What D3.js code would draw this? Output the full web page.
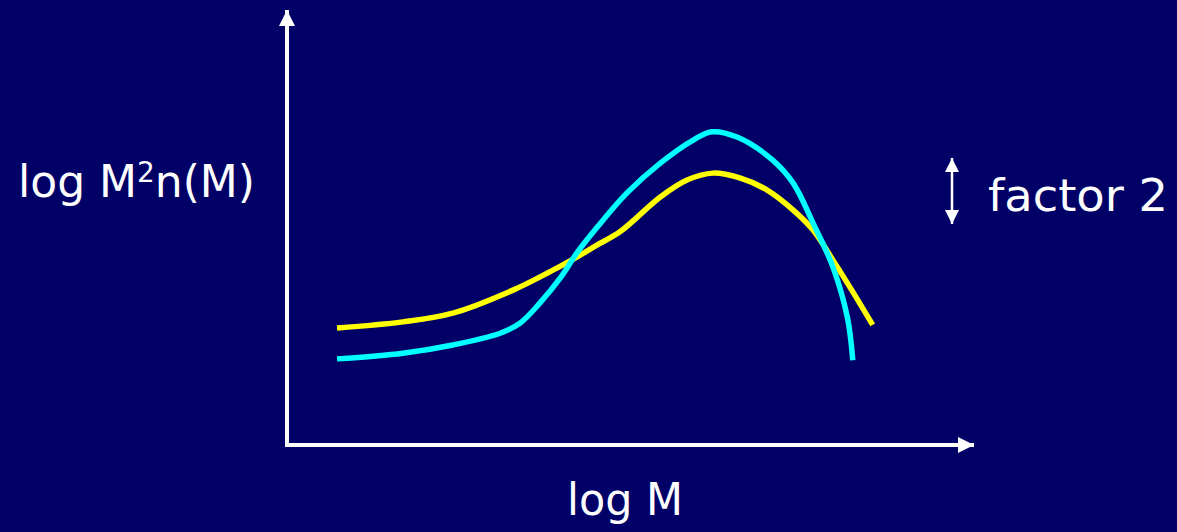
<!DOCTYPE html>
<html>
<head>
<meta charset="utf-8">
<script src="https://cdn.jsdelivr.net/npm/d3@7"></script>
<style>
  body { margin: 0; background: #000066; }
  text { font-family: "Comic Sans MS", "DejaVu Sans", sans-serif; fill: #fff; }
</style>
</head>
<body>
<div id="wrapper"></div>
<script>
// log M on x, log M^2 n(M) on y, arbitrary units 0..10
const cyanX = [0.73, 1.69, 2.42, 3.11, 3.40, 3.69, 3.99, 4.23, 4.53, 4.96, 5.45, 5.93, 6.20, 6.57, 7.09, 7.39, 7.68, 7.97, 8.18, 8.26];
const cyanY = [1.98, 2.11, 2.30, 2.57, 2.80, 3.26, 3.84, 4.41, 5.01, 5.79, 6.48, 7.01, 7.20, 7.08, 6.55, 6.02, 5.10, 4.09, 2.94, 1.95];
const yellowX = [0.73, 1.69, 2.42, 3.30, 3.80, 4.23, 4.53, 4.86, 5.45, 5.84, 6.22, 6.61, 7.01, 7.39, 7.68, 7.97, 8.26, 8.55];
const yellowY = [2.69, 2.83, 3.03, 3.56, 3.95, 4.32, 4.60, 4.90, 5.70, 6.09, 6.25, 6.14, 5.86, 5.40, 4.94, 4.25, 3.52, 2.76];

const xLabel = "log M";
const factorLabel = "factor 2";

function drawChart() {
  let dimensions = {
    width: 1177,
    height: 532,
    origin: { x: 287, y: 445 },
    xEnd: 972,
    yEnd: 10,
  };

  const svg = d3.select("#wrapper")
    .append("svg")
    .attr("width", dimensions.width)
    .attr("height", dimensions.height)
    .style("display", "block");

  svg.append("rect")
    .attr("width", dimensions.width)
    .attr("height", dimensions.height)
    .attr("fill", "#000066");

  const xScale = d3.scaleLinear()
    .domain([0, 10])
    .range([dimensions.origin.x, dimensions.xEnd]);

  const yScale = d3.scaleLinear()
    .domain([0, 10])
    .range([dimensions.origin.y, dimensions.yEnd]);

  // arrow markers
  const defs = svg.append("defs");
  defs.append("marker")
    .attr("id", "arrow")
    .attr("viewBox", "0 0 10 10")
    .attr("refX", 10)
    .attr("refY", 5)
    .attr("markerUnits", "userSpaceOnUse")
    .attr("markerWidth", 16)
    .attr("markerHeight", 17)
    .attr("orient", "auto")
    .append("path")
    .attr("d", "M0,0 L10,5 L0,10 Z")
    .attr("fill", "#fff");

  defs.append("marker")
    .attr("id", "small-arrow")
    .attr("viewBox", "0 0 10 10")
    .attr("refX", 10)
    .attr("refY", 5)
    .attr("markerUnits", "userSpaceOnUse")
    .attr("markerWidth", 15)
    .attr("markerHeight", 14)
    .attr("orient", "auto-start-reverse")
    .append("path")
    .attr("d", "M0,0 L10,5 L0,10 Z")
    .attr("fill", "#fff");

  // axes
  svg.append("line")
    .attr("x1", xScale(0)).attr("y1", yScale(0) + 1.5)
    .attr("x2", xScale(0)).attr("y2", yScale(10))
    .attr("stroke", "#fff")
    .attr("stroke-width", 4)
    .attr("marker-end", "url(#arrow)");

  svg.append("line")
    .attr("x1", xScale(0) - 2).attr("y1", yScale(0))
    .attr("x2", xScale(10) + 2).attr("y2", yScale(0))
    .attr("stroke", "#fff")
    .attr("stroke-width", 4)
    .attr("marker-end", "url(#arrow)");

  const lineGenerator = d3.line()
    .x(d => xScale(d[0]))
    .y(d => yScale(d[1]))
    .curve(d3.curveCatmullRom.alpha(0.5));

  const yellowData = d3.zip(yellowX, yellowY);
  const cyanData = d3.zip(cyanX, cyanY);

  svg.append("path")
    .attr("d", lineGenerator(yellowData))
    .attr("fill", "none")
    .attr("stroke", "#ffff00")
    .attr("stroke-width", 5.5);

  svg.append("path")
    .attr("d", lineGenerator(cyanData))
    .attr("fill", "none")
    .attr("stroke", "#00ffff")
    .attr("stroke-width", 5.5);

  // labels
  const yText = svg.append("text")
    .attr("x", 18)
    .attr("y", 197)
    .attr("font-size", 44)
    .attr("textLength", 237)
    .attr("lengthAdjust", "spacingAndGlyphs");
  yText.append("tspan").text("log M");
  yText.append("tspan").attr("font-size", 28).attr("dy", -15).text("2");
  yText.append("tspan").attr("dy", 15).text("n(M)");

  svg.append("text")
    .attr("x", 567)
    .attr("y", 515)
    .attr("font-size", 44)
    .attr("textLength", 116)
    .attr("lengthAdjust", "spacingAndGlyphs")
    .text(xLabel);

  svg.append("text")
    .attr("x", 988)
    .attr("y", 211)
    .attr("font-size", 44)
    .attr("textLength", 180)
    .attr("lengthAdjust", "spacingAndGlyphs")
    .text(factorLabel);

  // factor 2 double arrow
  svg.append("line")
    .attr("x1", 952).attr("y1", 224)
    .attr("x2", 952).attr("y2", 158)
    .attr("stroke", "#fff")
    .attr("stroke-width", 2.5)
    .attr("marker-start", "url(#small-arrow)")
    .attr("marker-end", "url(#small-arrow)");
}

drawChart();
</script>
</body>
</html>
